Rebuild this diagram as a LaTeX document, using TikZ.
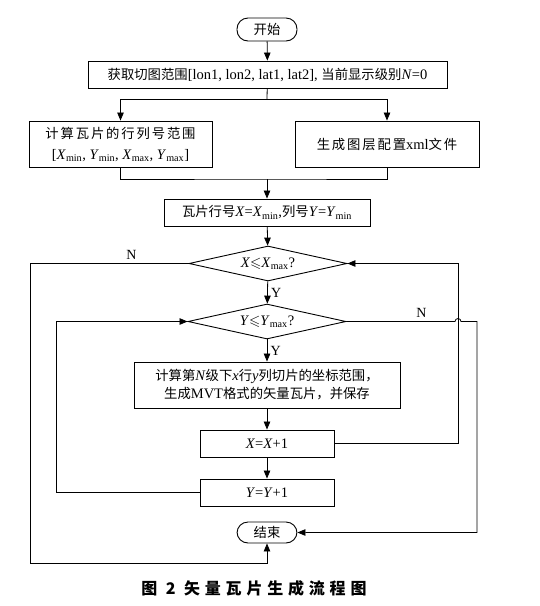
\documentclass[tikz,border=0pt]{standalone}
\usepackage{fontspec}
\usepackage{amssymb}
\setmainfont{Liberation Serif}
\newfontfamily\zh[Scale=0.92]{Noto Sans CJK SC}
\newfontfamily\zhwide[Scale=0.92,LetterSpace=14]{Noto Sans CJK SC}
\newfontfamily\zhcap[LetterSpace=30]{Noto Sans CJK SC}
\usetikzlibrary{shapes.geometric, arrows.meta}
\newcommand{\sbs}[1]{\textsubscript{#1}}

\begin{document}
\begin{tikzpicture}[x=1pt,y=-1pt,
  box/.style={draw, line width=0.9pt, inner sep=0pt, align=center, font=\fontsize{14.5}{21}\selectfont},
  term/.style={box, rounded corners=11pt, minimum width=60pt, minimum height=23pt},
  cond/.style={box, diamond, aspect=4.5, minimum width=158pt, minimum height=35pt},
  arr/.style={line width=0.8pt, -{Triangle[length=8pt,width=6.5pt]}},
  link/.style={line width=0.8pt},
  tag/.style={font=\fontsize{14}{16}\selectfont}]
\useasboundingbox (0,0) rectangle (540,606);
\node[term] (start) at (267,29.5) {{\zh 开始}};
\node[box, minimum width=359pt, minimum height=27pt] (get) at (267.5,74.5) {{\zh 获取切图范围}[lon1, lon2, lat1, lat2], {\zh 当前显示级别}\textit{N}=0};
\node[box, minimum width=183pt, minimum height=46pt] (calc) at (120.5,144) {{\zhwide 计算瓦片的行列号范围}\\{[}\textit{X}\sbs{min}, \textit{Y}\sbs{min}, \textit{X}\sbs{max}, \textit{Y}\sbs{max}]};
\node[box, minimum width=184pt, minimum height=46pt] (xml) at (387,144) {{\zhwide 生成图层配置}xml{\zhwide 文件}};
\node[box, minimum width=206pt, minimum height=27pt] (init) at (267,212.5) {{\zh 瓦片行号}\textit{X}=\textit{X}\sbs{min},{\zh 列号}\textit{Y}=\textit{Y}\sbs{min}};
\node[cond] (xcheck) at (268,263.5) {\textit{X}$\leqslant$\textit{X}\sbs{max}?};
\node[cond] (ycheck) at (267,321.5) {\textit{Y}$\leqslant$\textit{Y}\sbs{max}?};
\node[box, minimum width=266pt, minimum height=46pt, font=\fontsize{14.5}{18}\selectfont] (tile) at (267,385) {{\zh 计算第}\textit{N}{\zh 级下}\textit{x}{\zh 行}\textit{y}{\zh 列切片的坐标范围，}\\{\zh 生成}MVT{\zh 格式的矢量瓦片，并保存}};
\node[box, minimum width=134pt, minimum height=27pt] (xinc) at (267,443.5) {\textit{X}=\textit{X}+1};
\node[box, minimum width=134pt, minimum height=27pt] (yinc) at (267,492.5) {\textit{Y}=\textit{Y}+1};
\node[term, minimum height=21pt] (end) at (267,532.5) {{\zh 结束}};
\node[font=\zhcap\bfseries\fontsize{16}{18}\selectfont] (caption) at (254,588) {图 2 矢量瓦片生成流程图};
\coordinate (split) at (267,99);
\coordinate (merge) at (267,179);
\coordinate (outerL) at (30,563);
\coordinate (innerL) at (56,0);
\coordinate (innerR) at (458,0);
\coordinate (outerR) at (477,0);
\draw[arr] (start) -- (get);
\draw[link] (get) -- (split);
\draw[arr] (split) -| (calc.north);
\draw[arr] (split) -| (xml.north);
\draw[link] (calc.south) |- (merge) -| (xml.south);
\draw[arr] (merge) -- (init);
\draw[arr] (init) -- (xcheck);
\draw[arr] (xcheck) -- node[right, tag] {Y} (ycheck);
\draw[arr] (ycheck) -- node[right, tag] {Y} (tile);
\draw[arr] (tile) -- (xinc);
\draw[arr] (xinc) -- (yinc);
\draw[arr] (xinc.east) -| (xcheck.east -| innerR) -- (xcheck.east);
\draw[arr] (yinc.west) -| (ycheck.west -| innerL) -- (ycheck.west);
\draw[arr] (xcheck.west) -- node[pos=0.36, above, tag] {N} (xcheck.west -| outerL) -- (outerL) -| (end.south);
\draw[arr] (ycheck.east) -- node[pos=0.69, above, tag] {N} ([xshift=-3pt]ycheck.east -| innerR) arc[start angle=180, end angle=0, radius=3pt] -- (ycheck.east -| outerR) |- (end.east);
\end{tikzpicture}
\end{document}
